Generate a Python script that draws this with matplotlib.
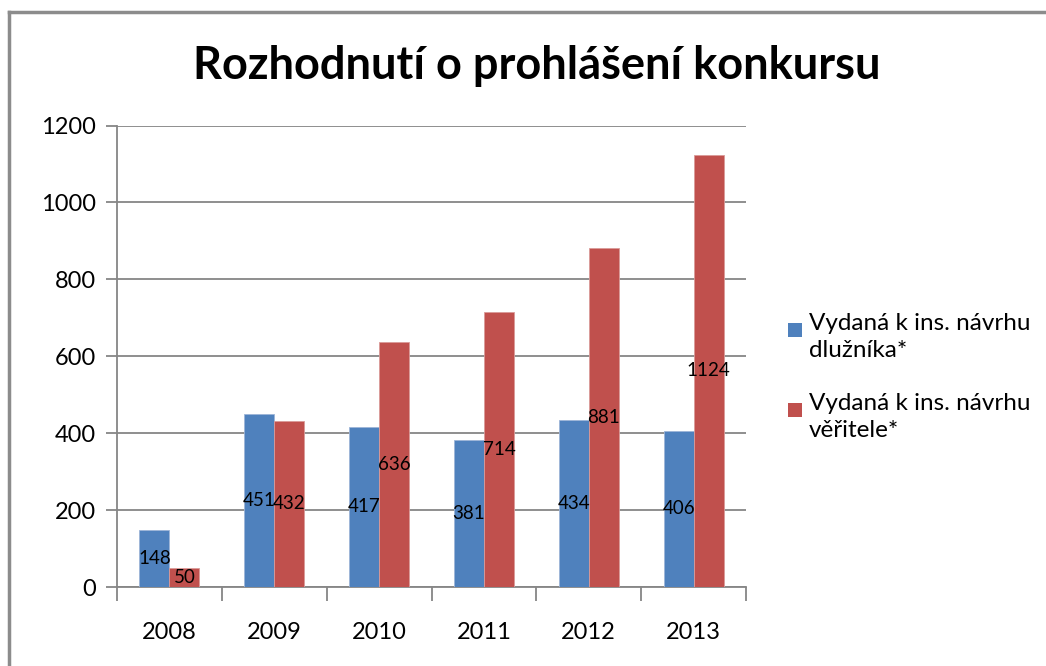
import matplotlib
matplotlib.use("Agg")
import matplotlib.pyplot as plt
import numpy as np
from matplotlib.lines import Line2D
from matplotlib.patches import Rectangle

years = ["2008", "2009", "2010", "2011", "2012", "2013"]
dluznik = [148, 451, 417, 381, 434, 406]
veritel = [50, 432, 636, 714, 881, 1124]
series_names = ["Vydaná k ins. návrhu\ndlužníka*", "Vydaná k ins. návrhu\nvěřitele*"]
title = "Rozhodnutí o prohlášení konkursu"
yticks = [0, 200, 400, 600, 800, 1000, 1200]

plt.rcParams['font.family'] = ['Lato', 'DejaVu Sans']

W, H = 1046, 666
fig = plt.figure(figsize=(W/100, H/100), dpi=100)
ax = fig.add_axes([117/W, 79/H, 629/W, 461.5/H])

blue = "#4F81BD"
red = "#C0504D"
grid_c = "#868686"
colors = [blue, red]

x = np.arange(len(years))
w = 0.286
b1 = ax.bar(x - w/2, dluznik, w, color=blue, edgecolor="#9DB5D8", linewidth=0.6, zorder=3)
b2 = ax.bar(x + w/2, veritel, w, color=red, edgecolor="#DA9A98", linewidth=0.6, zorder=3)

for bars, vals in ((b1, dluznik), (b2, veritel)):
    for r, v in zip(bars, vals):
        ax.text(r.get_x() + r.get_width()/2, v/2, str(v), ha="center", va="center",
                fontsize=13.5, color="black", zorder=4)

ax.set_xlim(-0.5, len(years) - 0.5)
ax.set_ylim(0, 1200)
ax.set_yticks(yticks)
ax.set_yticklabels([str(t) for t in yticks], fontsize=17)
ax.yaxis.grid(True, color=grid_c, linewidth=1.3, zorder=0)
ax.set_axisbelow(True)

ax.set_xticks(x)
ax.set_xticklabels(years, fontsize=17)
ax.tick_params(axis="x", length=0, pad=25)
ax.set_xticks(np.arange(-0.5, len(years)), minor=True)
ax.tick_params(axis="x", which="minor", length=10, width=1.3, color=grid_c, direction="out")
ax.tick_params(axis="y", length=8, width=1.3, color=grid_c, pad=7)

for s in ["top", "right"]:
    ax.spines[s].set_visible(False)
for s in ["left", "bottom"]:
    ax.spines[s].set_color(grid_c)
    ax.spines[s].set_linewidth(1.3)

fig.text(537/W, 1 - 66/H, title, ha="center", va="center", fontsize=32.5, fontweight="bold")

# legend (manual, marker aligned with first text line)
leg_lines = [330, 410]
for name, col, yc in zip(series_names, colors, leg_lines):
    fig.add_artist(Rectangle((788/W, 1 - (yc + 7)/H), 14/W, 14/H, facecolor=col,
                             edgecolor="none", transform=fig.transFigure))
    fig.text(809/W, 1 - (yc - 17)/H, name, ha="left", va="top", fontsize=17.5,
             linespacing=1.35, transform=fig.transFigure)

fig.add_artist(Line2D([9/W, 9/W], [0, 1 - 12/H], color="#8C8C8C", linewidth=2.5, transform=fig.transFigure))
fig.add_artist(Line2D([9/W, 1], [1 - 12/H, 1 - 12/H], color="#8C8C8C", linewidth=2.5, transform=fig.transFigure))

fig.savefig("out.png", dpi=100, facecolor="white")
